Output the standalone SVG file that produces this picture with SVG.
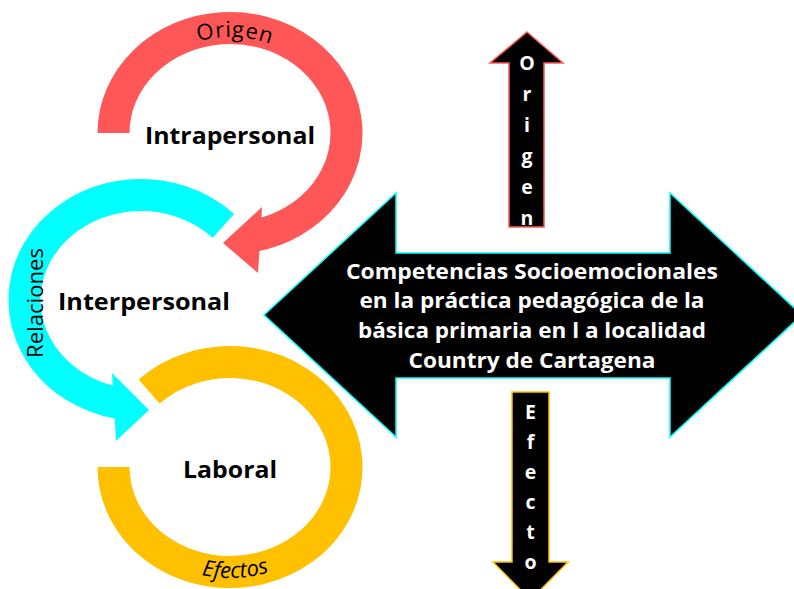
<svg xmlns="http://www.w3.org/2000/svg" width="794" height="589" viewBox="0 0 794 589">
<style>
.ring{fill:none;stroke-width:32;stroke-linecap:butt}
.red{stroke:#FF5757}
.cyan{stroke:#00FFFF}
.yel{stroke:#FFC000}
.lbl{font-family:"Open Sans","Noto Sans","DejaVu Sans",sans-serif;font-weight:bold;font-size:22.5px;fill:#000;text-anchor:middle}
.arc{font-family:"Open Sans","Noto Sans","DejaVu Sans",sans-serif;font-size:22px;fill:#000}
.main{font-family:"Open Sans","Noto Sans","DejaVu Sans",sans-serif;font-weight:bold;font-size:20.5px;fill:#fff;text-anchor:middle}
.vert{font-family:"Open Sans","Noto Sans","DejaVu Sans",sans-serif;font-weight:bold;font-size:19.5px;fill:#fff;text-anchor:middle}
</style>
<defs>
<path id="p-origen" d="M 122,133 A 108 96 0 0 1 338,133"/>
<path id="p-efectos" d="M 107,467 A 123 111 0 0 0 353,467"/>
</defs>
<rect width="794" height="589" fill="#fff"/>
<g id="connectors">
<g id="arc-origen">
<path class="ring red" d="M 113.5,133 A 116.5 105 0 1 1 254.2,235.7"/>
<polygon fill="#FF5757" points="262,207 223,243 258,273"/>
</g>
<g id="arc-relaciones">
<path class="ring cyan" d="M 223.4,225.8 A 116.5 105 0 1 0 118.8,403.1"/>
<polygon fill="#00FFFF" points="112,373 149,410 116,441"/>
</g>
<g id="arc-efectos">
<path class="ring yel" d="M 149.1,391.5 A 116.5 105 0 1 1 113.5,467"/>
</g>
</g>
<g id="label-origen-arc">
<text class="arc" font-size="23" letter-spacing="0.8"><textPath href="#p-origen" startOffset="51.5%" text-anchor="middle">Origen</textPath></text>
</g>
<g id="label-relaciones">
<text class="arc" font-size="26" text-anchor="middle" textLength="110" lengthAdjust="spacingAndGlyphs" transform="translate(43,303) rotate(-90)">Relaciones</text>
</g>
<g id="label-efectos">
<text class="arc" font-style="italic" font-size="24"><textPath href="#p-efectos" startOffset="51.5%" text-anchor="middle">Efectos</textPath></text>
</g>
<g id="node-intrapersonal"><text class="lbl" x="230" y="144" textLength="170" lengthAdjust="spacingAndGlyphs">Intrapersonal</text></g>
<g id="node-interpersonal"><text class="lbl" x="144" y="310" textLength="172" lengthAdjust="spacingAndGlyphs">Interpersonal</text></g>
<g id="node-laboral"><text class="lbl" x="230" y="478" textLength="94" lengthAdjust="spacingAndGlyphs">Laboral</text></g>
<g id="node-competencias">
<polygon points="264,315 396,193 396,253 670,253 670,193 802,315 670,437 670,378 396,378 396,437" fill="#000" stroke="#00FFFF" stroke-width="1.5"/>
<text class="main" x="532" y="279" textLength="372" lengthAdjust="spacingAndGlyphs">Competencias Socioemocionales</text>
<text class="main" x="532" y="308" textLength="345" lengthAdjust="spacingAndGlyphs">en la práctica pedagógica de la</text>
<text class="main" x="532" y="338" textLength="348" lengthAdjust="spacingAndGlyphs">básica primaria en l a localidad</text>
<text class="main" x="532" y="368" textLength="247" lengthAdjust="spacingAndGlyphs">Country de Cartagena</text>
</g>
<g id="node-origen">
<polygon points="527,32 563,63 544,63 544,227 509,227 509,63 490,63" fill="#000" stroke="#FF5757" stroke-width="1.5"/>
<text class="vert" x="527" y="70">O</text>
<text class="vert" x="527" y="101">r</text>
<text class="vert" x="527" y="132">i</text>
<text class="vert" x="527" y="163">g</text>
<text class="vert" x="527" y="194">e</text>
<text class="vert" x="527" y="225">n</text>
</g>
<g id="node-efecto">
<polygon points="512,392 549,392 549,562 568,562 530.5,600 493,562 512,562" fill="#000" stroke="#FFC000" stroke-width="1.5"/>
<text class="vert" x="530.5" y="419">E</text>
<text class="vert" x="530.5" y="449">f</text>
<text class="vert" x="530.5" y="479">e</text>
<text class="vert" x="530.5" y="509">c</text>
<text class="vert" x="530.5" y="539">t</text>
<text class="vert" x="530.5" y="569">o</text>
</g>
</svg>
